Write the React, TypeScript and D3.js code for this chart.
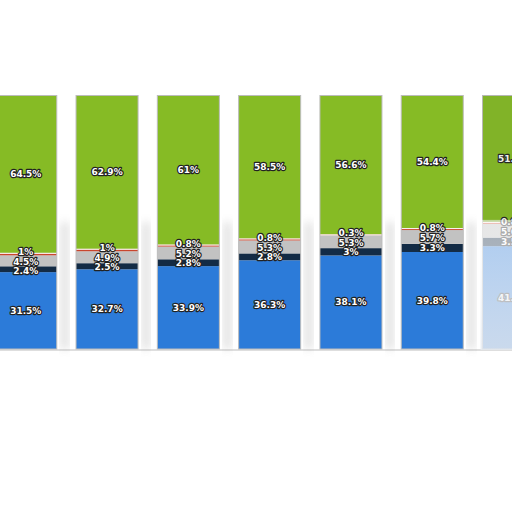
import React, { useEffect, useRef } from 'react';
import * as d3 from 'd3';

const categories = ['1', '2', '3', '4', '5', '6', '7'];
const seriesKeys = ['blue', 'navy', 'gray', 'red', 'green'];
const blueValues = [31.5, 32.7, 33.9, 36.3, 38.1, 39.8, 41.9];
const navyValues = [2.4, 2.5, 2.8, 2.8, 3, 3.3, 3.5];
const grayValues = [4.5, 4.9, 5.2, 5.3, 5.3, 5.7, 5.6];
const redValues = [1, 1, 0.8, 0.8, 0.3, 0.8, 0.8];
const greenValues = [64.5, 62.9, 61, 58.5, 56.6, 54.4, 51.5];

const COLORS: Record<string, string> = {
  blue: '#2c7bd9',
  navy: '#132b45',
  gray: '#c2c2c2',
  red: '#c8452e',
  green: '#86bb25',
};

const W = 512;
const H = 512;

const App: React.FC = () => {
  const svgRef = useRef<SVGSVGElement>(null);

  useEffect(() => {
    if (!svgRef.current) return;
    const svg = d3.select(svgRef.current);
    svg.selectAll('*').remove();

    const rows = categories.map((c, i) => ({
      cat: c,
      blue: blueValues[i],
      navy: navyValues[i],
      gray: grayValues[i],
      red: redValues[i],
      green: greenValues[i],
    }));

    const stack = d3.stack<any>().keys(seriesKeys).offset(d3.stackOffsetExpand);
    const layers = stack(rows);

    const x = d3
      .scaleBand()
      .domain(categories)
      .range([-14.9, -14.9 + 7 * 81.3])
      .paddingInner(0.237)
      .paddingOuter(0.1185);
    const y = d3.scaleLinear().domain([0, 1]).range([349, 95.5]);

    const defs = svg.append('defs');
    defs.append('filter').attr('id', 'blur').append('feGaussianBlur').attr('stdDeviation', 4);
    const fade = defs
      .append('linearGradient')
      .attr('id', 'fade')
      .attr('x1', 0)
      .attr('y1', 0)
      .attr('x2', 0)
      .attr('y2', 1);
    fade.append('stop').attr('offset', '0%').attr('stop-color', '#fff').attr('stop-opacity', 0.6);
    fade.append('stop').attr('offset', '100%').attr('stop-color', '#e6eaf0').attr('stop-opacity', 0.85);

    // baseline
    svg
      .append('line')
      .attr('x1', 0)
      .attr('x2', W)
      .attr('y1', y(0) + 1)
      .attr('y2', y(0) + 1)
      .attr('stroke', '#dedede')
      .attr('stroke-width', 2);

    // soft shadows between bars
    categories.forEach((c) => {
      svg
        .append('rect')
        .attr('x', x(c)! + x.bandwidth() + 4)
        .attr('y', y(0.5))
        .attr('width', 8)
        .attr('height', y(0) - y(0.5))
        .attr('fill', '#9a9a9a')
        .attr('opacity', 0.3)
        .attr('filter', 'url(#blur)');
    });

    layers.forEach((layer) => {
      svg
        .append('g')
        .selectAll('rect')
        .data(layer)
        .join('rect')
        .attr('x', (d: any) => x(d.data.cat)!)
        .attr('y', (d) => y(d[1]))
        .attr('width', x.bandwidth())
        .attr('height', (d) => y(d[0]) - y(d[1]))
        .attr('fill', COLORS[layer.key]);
    });

    // white separator above red slice
    const redLayer = layers[3];
    svg
      .append('g')
      .selectAll('line')
      .data(redLayer)
      .join('line')
      .attr('x1', (d: any) => x(d.data.cat)!)
      .attr('x2', (d: any) => x(d.data.cat)! + x.bandwidth())
      .attr('y1', (d) => y(d[1]) + 0.5)
      .attr('y2', (d) => y(d[1]) + 0.5)
      .attr('stroke', '#fff')
      .attr('stroke-width', 1);

    // bar outlines
    svg
      .append('g')
      .selectAll('rect')
      .data(categories)
      .join('rect')
      .attr('x', (c) => x(c)!)
      .attr('y', y(1))
      .attr('width', x.bandwidth())
      .attr('height', y(0) - y(1))
      .attr('fill', 'none')
      .attr('stroke', '#bcbcbc')
      .attr('stroke-width', 1);

    // labels
    const labelG = svg.append('g');
    categories.forEach((c, i) => {
      const items = layers.map((layer) => {
        const d = layer[i];
        const raw = (rows[i] as any)[layer.key] as number;
        return { key: layer.key, y: (y(d[0]) + y(d[1])) / 2, text: `${raw}%` };
      });
      // relax overlapping labels
      const sorted = items.slice().sort((a, b) => a.y - b.y);
      for (let it = 0; it < 50; it++) {
        for (let k = 0; k < sorted.length - 1; k++) {
          const gap = sorted[k + 1].y - sorted[k].y;
          if (gap < 9.5) {
            const push = (9.5 - gap) / 2;
            sorted[k].y -= push;
            sorted[k + 1].y += push;
          }
        }
      }
      const cx = x(c)! + x.bandwidth() / 2;
      sorted.forEach((l) => {
        labelG
          .append('text')
          .attr('x', cx)
          .attr('y', l.y)
          .attr('dy', '0.35em')
          .attr('text-anchor', 'middle')
          .attr('font-family', 'DejaVu Sans, sans-serif')
          .attr('font-weight', 'bold')
          .attr('font-size', 9)
          .attr('fill', '#fff')
          .attr('stroke', '#222')
          .attr('stroke-width', 2.4)
          .attr('stroke-linejoin', 'round')
          .attr('paint-order', 'stroke')
          .text(l.text);
      });
    });

    // last bar appears washed out
    const last = categories[categories.length - 1];
    const redTop = y(layers[3][6][1]);
    svg
      .append('rect')
      .attr('x', x(last)! - 2)
      .attr('y', redTop - 2)
      .attr('width', x.bandwidth() + 4)
      .attr('height', y(0) - redTop + 3)
      .attr('fill', 'url(#fade)');
    svg
      .append('rect')
      .attr('x', x(last)!)
      .attr('y', y(1))
      .attr('width', x.bandwidth())
      .attr('height', redTop - y(1))
      .attr('fill', '#5a6a40')
      .attr('opacity', 0.1);
  }, []);

  return (
    <svg
      ref={svgRef}
      width={W}
      height={H}
      style={{ position: 'absolute', left: 0, top: 0, background: '#fff' }}
    />
  );
};

export default App;
